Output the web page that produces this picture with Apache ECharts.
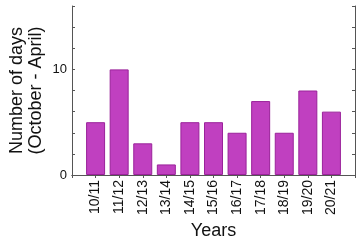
<!DOCTYPE html>
<html>
<head>
<meta charset="utf-8">
<script src="https://cdn.jsdelivr.net/npm/echarts@6/dist/echarts.min.js"></script>
<style>
html,body{margin:0;padding:0;background:#fff;}
#chart{width:356px;height:240px;}
</style>
</head>
<body>
<div id="chart"></div>
<script>
// seasons (October - April), padded with an empty slot on each side
var years = ['', '10/11', '11/12', '12/13', '13/14', '14/15', '15/16', '16/17', '17/18', '18/19', '19/20', '20/21', ''];
var days = [null, 5, 10, 3, 1, 5, 5, 4, 7, 4, 8, 6, null];
var yLabels = [0, 10];

var font = 'Liberation Sans';
var frame = {lineStyle: {color: '#555', width: 1}};
var myChart = echarts.init(document.getElementById('chart'));
var option = {
    animation: false,
    grid: {left: 72, right: 1, top: 6, bottom: 65, outerBoundsMode: 'none'},
    xAxis: [{
        type: 'category',
        data: years,
        boundaryGap: false,
        axisLine: frame,
        axisTick: {show: false},
        axisLabel: {rotate: 90, fontSize: 14, fontFamily: font, color: '#111', margin: 5, interval: 0},
        name: 'Years',
        nameLocation: 'middle',
        nameGap: 47,
        nameMoveOverlap: false,
        nameTextStyle: {fontSize: 18, fontFamily: font, color: '#111', verticalAlign: 'top'}
    }, {
        type: 'category',
        data: years,
        boundaryGap: false,
        position: 'top',
        axisLine: frame,
        axisTick: {show: true, inside: true, length: 3, interval: 0, lineStyle: {color: '#555'}},
        axisLabel: {show: false}
    }],
    yAxis: [{
        type: 'value',
        min: 0,
        max: 16,
        interval: 2,
        axisLine: {show: true, lineStyle: {color: '#555', width: 1}},
        axisTick: {show: true, inside: true, length: 3, lineStyle: {color: '#555'}},
        splitLine: {show: false},
        axisLabel: {
            fontSize: 13, fontFamily: font, color: '#111', margin: 5,
            formatter: function (v) { return yLabels.indexOf(v) >= 0 ? v : ''; }
        },
        name: 'Number of days\n(October - April)',
        nameLocation: 'middle',
        nameGap: 26,
        nameMoveOverlap: false,
        nameTextStyle: {fontSize: 18, fontFamily: font, color: '#111', lineHeight: 19}
    }, {
        type: 'value',
        min: 0,
        max: 16,
        interval: 2,
        position: 'right',
        axisLine: {show: true, lineStyle: {color: '#555', width: 1}},
        axisTick: {show: true, inside: true, length: 3, lineStyle: {color: '#555'}},
        splitLine: {show: false},
        axisLabel: {show: false}
    }],
    series: [{
        type: 'bar',
        data: days,
        barWidth: 19,
        itemStyle: {color: '#c040c0', borderColor: '#9a229a', borderWidth: 1}
    }]
};
myChart.setOption(option);
</script>
</body>
</html>
